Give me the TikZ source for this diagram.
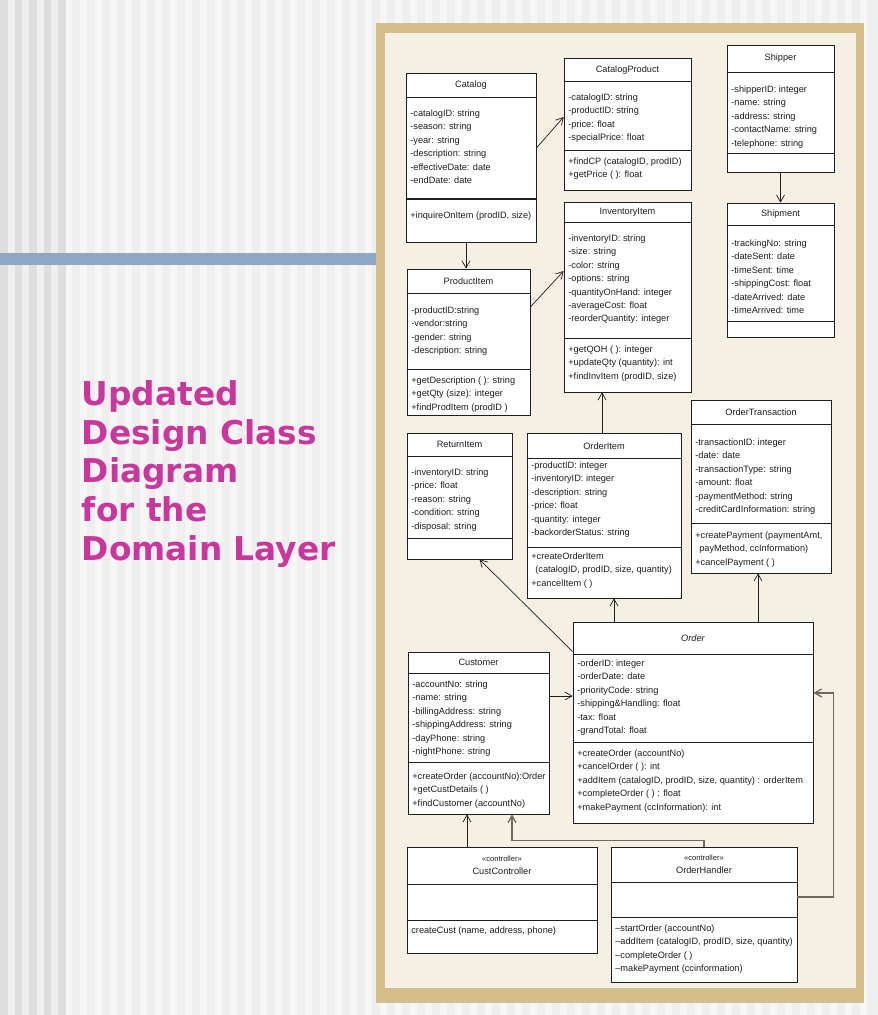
\documentclass[tikz,border=0pt]{standalone}
\usepackage{fontspec}
\setmainfont{Liberation Sans}
\newfontfamily\titlefont{DejaVu Sans}
\usetikzlibrary{arrows.meta, calc, fit}
\definecolor{cpage}{HTML}{EFEFEF}
\definecolor{cstripe}{HTML}{F6F6F6}
\definecolor{cband}{HTML}{DEDEDE}
\definecolor{cbar}{HTML}{8EA7C4}
\definecolor{ctan}{HTML}{D3BE8C}
\definecolor{ccream}{HTML}{F5F0E4}
\definecolor{cmag}{HTML}{C8389C}
\definecolor{cline}{HTML}{1E1E1E}
\definecolor{cgreyline}{HTML}{6E6A62}
\newcommand{\memberfont}{\fontsize{9.2}{13.4}\selectfont}
\newcommand{\stereofont}{\fontsize{7.6}{8}\selectfont}
\tikzset{
  every picture/.style={x=1pt, y=-1pt, line width=0.7pt},
  classbox/.style={draw=cline, fill=white, inner sep=0pt, line width=0.8pt},
  rule/.style={draw=cline, line width=0.8pt},
  ctitle/.style={font=\memberfont, inner sep=0pt, text=cline},
  members/.style={anchor=north west, inner sep=0pt, yshift=0.6pt, align=left, font=\memberfont, text=cline},
  assoc/.style={-{Straight Barb[length=7pt, width=8pt]}, draw=cline, line width=0.7pt},
  ctl/.style={assoc, draw=cgreyline, line width=1.3pt},
  slidetitle/.style={anchor=north west, inner sep=0pt, align=left, text=cmag,
    font=\titlefont\bfseries\fontsize{32.8}{38.8}\selectfont},
}
% class box: name, NW corner, SE corner, y of first rule, y of second rule
\newcommand{\umlclass}[5]{%
  \node[classbox, fit={#2 #3}] (#1) {};
  \draw[rule] (#1.west |- 0,#4) -- (#1.east |- 0,#4);
  \draw[rule] (#1.west |- 0,#5) -- (#1.east |- 0,#5);
}
\begin{document}
\begin{tikzpicture}
  \useasboundingbox (0,0) rectangle (878,1015);
  % slide background
  \fill[cpage] (0,0) rectangle (878,1015);
  \foreach \x in {65,80,...,870} \fill[cstripe] (\x,0) rectangle ++(7,1015);
  \foreach \x in {0,14.5,...,58} \fill[cband] (\x,0) rectangle ++(7.5,1015);
  \fill[cbar] (0,253) rectangle (376,265);
  \fill[ctan] (376,23) rectangle (864,1003);
  \fill[ccream] (385,33) rectangle (856,988);
  \node[slidetitle] (title) at (81.5,380) {Updated\\Design Class\\Diagram\\for the\\Domain Layer};

  % classes
  \umlclass{cat}{(406,73)}{(536,242)}{97}{199}
  \draw[rule, line width=2.2pt] (cat.west |- 0,199) -- (cat.east |- 0,199);
  \node[ctitle] (cat-t) at (cat.north |- 0,85) {Catalog};
  \node[members] (cat-a) at (410,110) {-catalogID: string\\-season: string\\-year: string\\-description: string\\-effectiveDate: date\\-endDate: date};
  \node[members] (cat-m) at (410,212) {+inquireOnItem (prodID, size)};

  \umlclass{catprod}{(564,58)}{(691,190)}{81}{150}
  \node[ctitle] (catprod-t) at (catprod.north |- 0,70) {CatalogProduct};
  \node[members] (catprod-a) at (568,94) {-catalogID: string\\-productID: string\\-price: float\\-specialPrice: float};
  \node[members] (catprod-m) at (568,158) {+findCP (catalogID, prodID)\\+getPrice ( ): float};

  \umlclass{shipper}{(727,45)}{(834,172)}{72}{153}
  \node[ctitle] (shipper-t) at (shipper.north |- 0,58) {Shipper};
  \node[members] (shipper-a) at (731,86) {-shipperID: integer\\-name: string\\-address: string\\-contactName: string\\-telephone: string};

  \umlclass{shipment}{(727,203)}{(834,337)}{225}{321}
  \node[ctitle] (shipment-t) at (shipment.north |- 0,214) {Shipment};
  \node[members] (shipment-a) at (731,240) {-trackingNo: string\\-dateSent: date\\-timeSent: time\\-shippingCost: float\\-dateArrived: date\\-timeArrived: time};

  \umlclass{inv}{(564,202)}{(691,392)}{222}{338}
  \node[ctitle] (inv-t) at (inv.north |- 0,212) {InventoryItem};
  \node[members] (inv-a) at (568,235) {-inventoryID: string\\-size: string\\-color: string\\-options: string\\-quantityOnHand: integer\\-averageCost: float\\-reorderQuantity: integer};
  \node[members] (inv-m) at (568,346) {+getQOH ( ): integer\\+updateQty (quantity): int\\+findInvItem (prodID, size)};

  \umlclass{prod}{(407,269)}{(530,415)}{293}{369}
  \node[ctitle] (prod-t) at (prod.north |- 0,281) {ProductItem};
  \node[members] (prod-a) at (411,307) {-productID:string\\-vendor:string\\-gender: string\\-description: string};
  \node[members] (prod-m) at (411,377) {+getDescription ( ): string\\+getQty (size): integer\\+findProdItem (prodID )};

  \umlclass{ret}{(407,433)}{(512,559)}{456}{538}
  \node[ctitle] (ret-t) at (ret.north |- 0,444) {ReturnItem};
  \node[members] (ret-a) at (411,469) {-inventoryID: string\\-price: float\\-reason: string\\-condition: string\\-disposal: string};

  \umlclass{oitem}{(527,433)}{(681,598)}{458}{547}
  \node[ctitle] (oitem-t) at (oitem.north |- 0,446) {OrderItem};
  \node[members] (oitem-a) at (531,462) {-productID: integer\\-inventoryID: integer\\-description: string\\-price: float\\-quantity: integer\\-backorderStatus: string};
  \node[members] (oitem-m) at (531,553) {+createOrderItem\\\hspace*{4pt}(catalogID, prodID, size, quantity)\\+cancelItem ( )};

  \umlclass{otrans}{(691,400)}{(831,573)}{424}{523}
  \node[ctitle] (otrans-t) at (otrans.north |- 0,412) {OrderTransaction};
  \node[members] (otrans-a) at (695,439) {-transactionID: integer\\-date: date\\-transactionType: string\\-amount: float\\-paymentMethod: string\\-creditCardInformation: string};
  \node[members] (otrans-m) at (695,532) {+createPayment (paymentAmt,\\\hspace*{4pt}payMethod, ccInformation)\\+cancelPayment ( )};

  \umlclass{order}{(573,622)}{(813,823)}{654}{742}
  \node[ctitle] (order-t) at (order.north |- 0,638) {\itshape Order};
  \node[members] (order-a) at (577,660) {-orderID: integer\\-orderDate: date\\-priorityCode: string\\-shipping\&Handling: float\\-tax: float\\-grandTotal: float};
  \node[members] (order-m) at (577,750) {+createOrder (accountNo)\\+cancelOrder ( ): int\\+addItem (catalogID, prodID, size, quantity) : orderItem\\+completeOrder ( ) : float\\+makePayment (ccInformation): int};

  \umlclass{cust}{(408,652)}{(549,814)}{673}{762}
  \node[ctitle] (cust-t) at (cust.north |- 0,662) {Customer};
  \node[members] (cust-a) at (412,681) {-accountNo: string\\-name: string\\-billingAddress: string\\-shippingAddress: string\\-dayPhone: string\\-nightPhone: string};
  \node[members] (cust-m) at (412,773) {+createOrder (accountNo):Order\\+getCustDetails ( )\\+findCustomer (accountNo)};

  \umlclass{custctl}{(407,847)}{(597,953)}{884}{920}
  \node[ctitle, align=center] (custctl-t) at (custctl.north |- 0,865) {{\stereofont «controller»}\\CustController};
  \node[members] (custctl-m) at (411,927) {createCust (name, address, phone)};

  \umlclass{ohandler}{(611,847)}{(797,982)}{882}{917}
  \node[ctitle, align=center] (ohandler-t) at (ohandler.north |- 0,864) {{\stereofont «controller»}\\OrderHandler};
  \node[members] (ohandler-m) at (615,925) {–startOrder (accountNo)\\–addItem (catalogID, prodID, size, quantity)\\–completeOrder ( )\\–makePayment (ccinformation)};

  % associations
  \draw[assoc] ([yshift=9.5pt]cat.east) -- ([yshift=7pt]catprod.west);
  \draw[assoc] (shipper.south) -- (shipment.north);
  \draw[assoc] ([xshift=-5pt]cat.south) -- ([xshift=-5pt]cat.south |- prod.north);
  \draw[assoc] ([yshift=35pt]prod.east) -- ([yshift=26pt]inv.west);
  \draw[assoc] ([xshift=-2pt]oitem.north) -- ([xshift=-2pt]oitem.north |- inv.south);
  \draw[assoc] ([xshift=10pt]oitem.south |- order.north) -- ([xshift=10pt]oitem.south);
  \draw[assoc] ([xshift=-3pt]otrans.south |- order.north) -- ([xshift=-3pt]otrans.south);
  \draw[assoc] ([yshift=-30pt]order.north west) -- ([xshift=20pt]ret.south);
  \draw[assoc] ([yshift=37pt]cust.east) -- ([yshift=37pt]cust.east -| order.west);
  \draw[assoc] ([xshift=-11.5pt]cust.south |- custctl.north) -- ([xshift=-11.5pt]cust.south);
  \draw[ctl] (ohandler.north) -- ++(0,-6) -| ([xshift=33.5pt]cust.south);
  \draw[ctl] ([yshift=17.5pt]ohandler.east) -- ++(36,0) |- ([yshift=29.5pt]order.east);
\end{tikzpicture}
\end{document}
